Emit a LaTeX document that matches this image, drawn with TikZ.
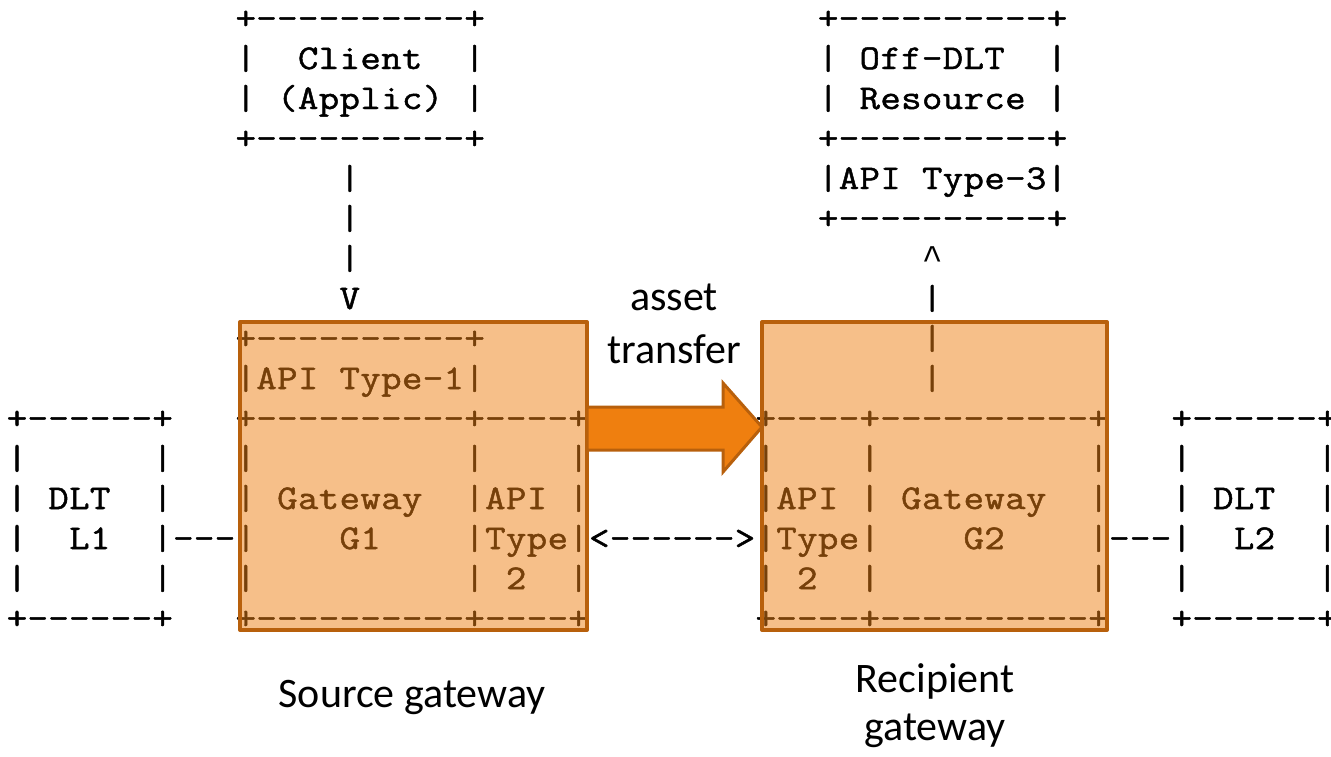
\documentclass[tikz,border=0pt]{standalone}
\usepackage{fontspec}
\setmainfont{Carlito}
\setmonofont[FakeStretch=1.143,FakeBold=1.4]{Latin Modern Mono}
\newfontfamily\caretfont{Liberation Mono}
\newcommand\caret{{\caretfont\textasciicircum}}
\definecolor{ovfill}{RGB}{237,128,20}
\definecolor{ovline}{RGB}{184,96,12}
\definecolor{arrfill}{RGB}{239,127,15}
\tikzset{
  asc/.style={anchor=base west, inner sep=0pt, outer sep=0pt,
    font=\ttfamily\fontsize{34.667}{40}\selectfont},
  lbl/.style={anchor=base, inner sep=0pt, outer sep=0pt,
    font=\fontsize{42}{44}\selectfont},
  gwbox/.style={draw=ovline, line width=4pt, fill=ovfill, fill opacity=0.5, line join=round},
}
% every character sits in its own cell of a fixed-width grid
\def\gridstr#1{\gridloop#1\relax}
\def\gridloop#1{\ifx#1\relax\else\makebox[20.8pt]{#1}\expandafter\gridloop\fi}
\newcommand\asc[4]{\node[asc] (#1) at ({6.6+20.8*#2},{29+40*#3}) {\gridstr{#4}};}
\begin{document}
\begin{tikzpicture}[x=1pt,y=-1pt]
\useasboundingbox (0,0) rectangle (1331,756);
% ---- ASCII art ----
\asc{cA0}{11}{0}{+----------+}
\asc{cA1}{11}{1}{|~~Client~~|}
\asc{cA2}{11}{2}{|~(Applic)~|}
\asc{cA3}{11}{3}{+----------+}
\asc{oA0}{39}{0}{+----------+}
\asc{oA1}{39}{1}{|~Off-DLT~~|}
\asc{oA2}{39}{2}{|~Resource~|}
\asc{oA3}{39}{3}{+----------+}
\asc{oA4}{39}{4}{|API~Type-3|}
\asc{oA5}{39}{5}{+----------+}
\asc{vl4}{16}{4}{|}
\asc{vl5}{16}{5}{|}
\asc{vl6}{16}{6}{|}
\asc{vl7}{16}{7}{V}
\asc{ul6}{44}{6}{\caret}
\asc{ul7}{44}{7}{|}
\asc{ul8}{44}{8}{|}
\asc{ul9}{44}{9}{|}
\asc{t1a}{11}{8}{+----------+}
\asc{t1b}{11}{9}{|API~Type-1|}
\asc{r10}{0}{10}{+------+~~~+----------+----+~~~~~~~~+----+----------+~~~+------+}
\asc{r11}{0}{11}{|~~~~~~|~~~|~~~~~~~~~~|~~~~|~~~~~~~~|~~~~|~~~~~~~~~~|~~~|~~~~~~|}
\asc{r12}{0}{12}{|~DLT~~|~~~|~Gateway~~|API~|~~~~~~~~|API~|~Gateway~~|~~~|~DLT~~|}
\asc{r13}{0}{13}{|~~L1~~|---|~~~~G1~~~~|Type|<------>|Type|~~~~G2~~~~|---|~~L2~~|}
\asc{r14}{0}{14}{|~~~~~~|~~~|~~~~~~~~~~|~2~~|~~~~~~~~|~2~~|~~~~~~~~~~|~~~|~~~~~~|}
\asc{r15}{0}{15}{+------+~~~+----------+----+~~~~~~~~+----+----------+~~~+------+}
% ---- orange gateway overlays ----
\draw[gwbox] (240,322) rectangle (587,630);
\draw[gwbox] (762,322) rectangle (1107,630);
% ---- asset transfer arrow ----
\draw[draw=ovline, line width=3pt, fill=arrfill, line join=miter]
  (587,407) -- (723,407) -- (723,383) -- (762,427) -- (723,472) -- (723,450) -- (587,450) -- cycle;
% ---- labels ----
\node[lbl] (as1) at (674,310) {asset};
\node[lbl] (as2) at (674,363) {transfer};
\node[lbl] (src) at (412,707) {Source gateway};
\node[lbl] (rc1) at (935,692) {Recipient};
\node[lbl] (rc2) at (935,740) {gateway};
\end{tikzpicture}
\end{document}
